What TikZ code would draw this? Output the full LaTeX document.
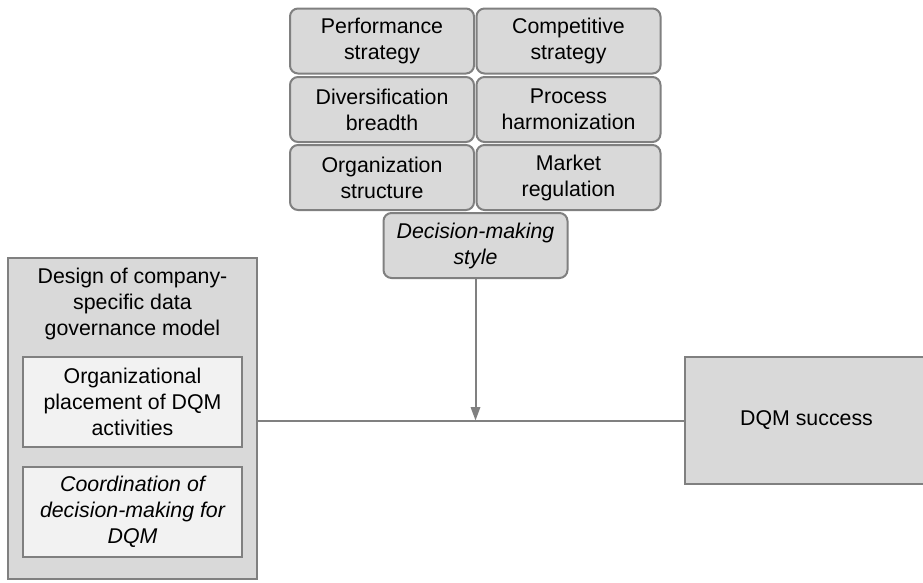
\documentclass[tikz,border=0pt]{standalone}
\usepackage{fontspec}
\setmainfont{Liberation Sans}
\usetikzlibrary{arrows.meta}

\definecolor{boxfill}{RGB}{217,217,217}
\definecolor{innerfill}{RGB}{242,242,242}
\definecolor{boxline}{RGB}{128,128,128}

\tikzset{every picture/.style={line width=1.5pt},
  factor/.style={draw=boxline, fill=boxfill, rounded corners=6pt, align=center,
    minimum width=138pt, minimum height=48.75pt, inner sep=0pt,
    font=\fontsize{16}{19.5}\selectfont},
  block/.style={draw=boxline, fill=boxfill, align=center, inner sep=0pt,
    font=\fontsize{16}{19.5}\selectfont},
  inner block/.style={block, fill=innerfill, minimum width=164.25pt, minimum height=67.5pt}
}

\begin{document}
\begin{tikzpicture}[x=0.75pt,y=0.75pt,yscale=-1,xscale=1]
\useasboundingbox (0,0) rectangle (923,582);
\clip (0,0) rectangle (923,582);

% Context factors
\node [factor] (perf) at (382,41) {Performance\\strategy};
\node [factor] (comp) at (568.5,41) {Competitive\\strategy};
\node [factor] (div) at (382,109.5) {Diversification\\breadth};
\node [factor] (proc) at (568.5,109.5) {Process\\harmonization};
\node [factor] (org) at (382,177.5) {Organization\\structure};
\node [factor] (market) at (568.5,177.5) {Market\\regulation};
\node [factor] (decision) at (475.5,245.5) {\itshape Decision-making\\\itshape style};

% Data governance model
\node [block, minimum width=186.75pt, minimum height=240.75pt] (model) at (132.5,418.5) {};
\node (title) at (132.5,304) [align=center, font=\fontsize{16}{19.5}\selectfont]
  {Design of company-\\specific data\\governance model};
\node [inner block] (placement) at (132.5,402) {Organizational\\placement of DQM\\activities};
\node [inner block] (coord) at (132.5,511.5) {\itshape Coordination of\\\itshape decision-making for\\\itshape DQM};

% Outcome
\node [block, minimum width=182.25pt, minimum height=95.25pt] (success) at (806.5,420.5) {DQM success};

% Connectors
\coordinate (join) at (decision.south |- success.west);
\draw [draw=boxline] (model.east |- success.west) -- (success.west);
\draw [draw=boxline, -{Triangle[length=10pt, width=7pt]}] (decision.south) -- (join);

\end{tikzpicture}
\end{document}
